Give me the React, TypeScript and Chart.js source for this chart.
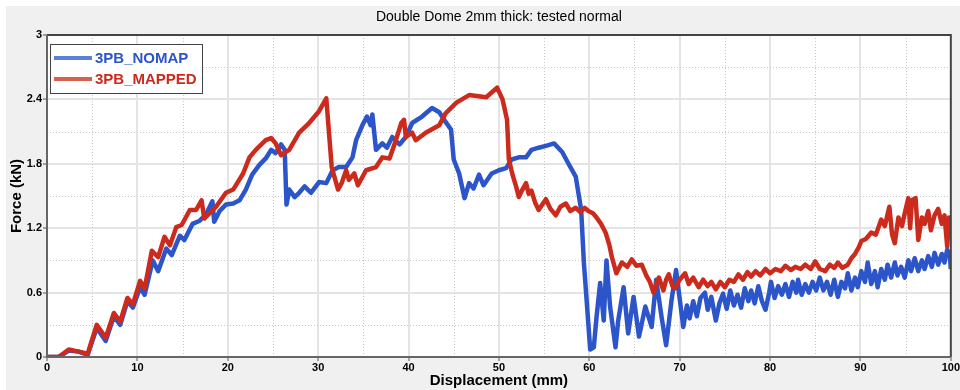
import React, { useEffect, useRef } from "react";
import { Chart, registerables } from "chart.js";

Chart.register(...registerables);

const chartTitle = "Double Dome 2mm thick: tested normal";
const xTitle = "Displacement (mm)";
const yTitle = "Force (kN)";
const seriesNames = ["3PB_NOMAP", "3PB_MAPPED"];
const seriesColors = ["#2b55c9", "#cc2a1c"];
const legendColors = ["#5a80d8", "#d8604f"];

const blueX = [0, 1.3, 2.4, 3.5, 4.5, 5.5, 6.5, 7.4, 8.1, 8.9, 9.5, 10.3, 10.8, 11.7, 12.3, 13.2, 13.8, 14.7, 15.2, 16.1, 16.9, 17.6, 18.3, 18.5, 19.1, 19.8, 20.6, 21.3, 22.0, 22.7, 23.5, 24.2, 24.8, 25.3, 25.9, 26.3, 26.5, 26.8, 27.4, 27.9, 28.5, 29.2, 30.1, 30.9, 31.6, 32.3, 33.1, 33.8, 34.2, 34.9, 35.4, 35.8, 36.0, 36.4, 37.1, 37.6, 38.2, 39.0, 39.7, 40.4, 41.5, 42.6, 43.4, 44.1, 44.7, 45.0, 45.6, 46.2, 46.7, 47.2, 47.8, 48.3, 49.2, 50.0, 50.8, 51.4, 52.2, 53.0, 53.6, 54.4, 55.3, 56.1, 57.0, 57.7, 58.5, 59.1, 59.4, 59.6, 60.1, 60.5, 60.8, 61.2, 61.6, 61.9, 62.3, 62.9, 63.2, 63.8, 64.3, 64.9, 65.5, 66.2, 66.9, 67.4, 68.0, 68.5, 69.1, 69.6, 70.4, 70.8, 71.1, 71.5, 71.9, 72.3, 72.8, 73.1, 73.5, 74.0, 74.4, 74.8, 75.2, 75.6, 76.0, 76.4, 76.8, 77.2, 77.6, 77.9, 78.3, 78.7, 79.1, 79.5, 79.9, 80.1, 80.5, 80.9, 81.3, 81.7, 82.1, 82.5, 82.9, 83.1, 83.5, 83.9, 84.3, 84.7, 85.1, 85.5, 85.9, 86.3, 86.7, 87.1, 87.5, 87.9, 88.3, 88.6, 89.0, 89.4, 89.7, 90.1, 90.5, 90.8, 91.2, 91.6, 91.9, 92.3, 92.7, 93.0, 93.4, 93.8, 94.1, 94.5, 94.9, 95.3, 95.6, 96.0, 96.4, 96.8, 97.1, 97.5, 97.9, 98.2, 98.6, 99.0, 99.3, 99.6, 99.9, 100];
const blueY = [0, 0, 0.06, 0.05, 0.02, 0.27, 0.15, 0.38, 0.30, 0.52, 0.46, 0.65, 0.58, 0.90, 0.80, 1.01, 0.95, 1.13, 1.09, 1.24, 1.27, 1.33, 1.45, 1.26, 1.36, 1.42, 1.43, 1.46, 1.56, 1.70, 1.79, 1.85, 1.93, 1.90, 1.98, 1.93, 1.42, 1.56, 1.49, 1.53, 1.59, 1.53, 1.63, 1.62, 1.74, 1.77, 1.77, 1.86, 2.02, 2.16, 2.24, 2.16, 2.26, 1.93, 1.99, 1.95, 2.05, 1.98, 2.05, 2.18, 2.24, 2.32, 2.28, 2.19, 2.12, 1.84, 1.71, 1.48, 1.62, 1.57, 1.70, 1.60, 1.71, 1.74, 1.76, 1.84, 1.86, 1.86, 1.93, 1.95, 1.97, 1.99, 1.91, 1.80, 1.68, 1.37, 0.88, 0.65, 0.07, 0.09, 0.37, 0.69, 0.34, 0.90, 0.47, 0.09, 0.34, 0.65, 0.22, 0.56, 0.19, 0.47, 0.28, 0.72, 0.37, 0.11, 0.53, 0.81, 0.28, 0.48, 0.36, 0.52, 0.38, 0.55, 0.60, 0.44, 0.56, 0.34, 0.50, 0.59, 0.45, 0.62, 0.48, 0.58, 0.46, 0.64, 0.52, 0.62, 0.50, 0.66, 0.52, 0.44, 0.60, 0.70, 0.55, 0.66, 0.58, 0.68, 0.56, 0.70, 0.60, 0.72, 0.58, 0.68, 0.60, 0.70, 0.62, 0.74, 0.62, 0.70, 0.58, 0.72, 0.56, 0.70, 0.64, 0.78, 0.62, 0.74, 0.65, 0.80, 0.70, 0.88, 0.68, 0.80, 0.65, 0.82, 0.72, 0.86, 0.74, 0.88, 0.76, 0.84, 0.74, 0.90, 0.80, 0.92, 0.80, 0.90, 0.82, 0.94, 0.84, 0.97, 0.86, 0.96, 0.88, 1.00, 0.95, 0.82];

const redX = [0, 1.3, 2.4, 3.5, 4.5, 5.5, 6.5, 7.4, 8.1, 8.9, 9.5, 10.3, 10.8, 11.6, 12.3, 13.0, 13.6, 14.3, 14.9, 15.8, 16.5, 17.1, 17.4, 18.7, 19.8, 20.6, 21.7, 22.4, 23.1, 24.2, 24.8, 25.3, 25.9, 26.8, 27.9, 29.0, 30.1, 30.9, 31.5, 32.2, 32.6, 33.1, 33.4, 34.0, 34.4, 35.3, 36.4, 37.1, 37.9, 38.6, 39.2, 39.5, 39.7, 40.4, 40.8, 41.9, 43.4, 44.1, 45.3, 46.7, 48.6, 49.8, 50.4, 50.9, 51.1, 51.5, 51.9, 52.2, 52.6, 53.0, 53.3, 53.6, 54.0, 54.4, 54.8, 55.2, 55.7, 56.3, 56.8, 57.4, 57.9, 58.5, 59.0, 59.5, 59.9, 60.4, 60.8, 61.3, 61.8, 62.2, 62.5, 63.0, 63.6, 64.2, 64.7, 65.2, 65.8, 66.3, 66.7, 67.1, 67.5, 67.7, 68.2, 68.5, 68.8, 69.2, 69.5, 70.0, 70.6, 71.0, 71.5, 72.1, 72.6, 73.1, 73.5, 74.0, 74.5, 75.0, 75.5, 76.0, 76.5, 77.0, 77.5, 77.9, 78.4, 78.9, 79.5, 80.0, 80.6, 81.2, 81.7, 82.3, 82.8, 83.4, 83.9, 84.5, 85.0, 85.5, 86.1, 86.6, 87.1, 87.5, 88.0, 88.6, 89.0, 89.4, 89.8, 90.1, 90.6, 91.2, 91.7, 92.3, 92.7, 93.2, 93.5, 93.8, 94.2, 94.6, 94.9, 95.3, 95.5, 95.7, 96.1, 96.4, 96.8, 97.1, 97.5, 97.8, 98.2, 98.6, 99.0, 99.3, 99.6, 99.8, 100];
const redY = [0, 0, 0.07, 0.05, 0.03, 0.30, 0.18, 0.41, 0.33, 0.55, 0.49, 0.71, 0.64, 0.99, 0.93, 1.12, 1.04, 1.21, 1.23, 1.37, 1.37, 1.46, 1.29, 1.40, 1.53, 1.56, 1.71, 1.86, 1.93, 2.02, 2.04, 1.99, 1.88, 1.93, 2.09, 2.18, 2.29, 2.41, 1.77, 1.56, 1.62, 1.74, 1.65, 1.71, 1.60, 1.74, 1.77, 1.86, 1.85, 2.02, 2.18, 2.21, 2.05, 2.09, 2.02, 2.09, 2.16, 2.27, 2.37, 2.44, 2.42, 2.51, 2.40, 2.21, 1.84, 1.70, 1.59, 1.49, 1.56, 1.62, 1.52, 1.55, 1.44, 1.37, 1.42, 1.47, 1.38, 1.32, 1.40, 1.43, 1.36, 1.39, 1.35, 1.39, 1.36, 1.34, 1.30, 1.24, 1.16, 1.05, 0.93, 0.78, 0.88, 0.84, 0.91, 0.85, 0.86, 0.76, 0.70, 0.60, 0.70, 0.74, 0.62, 0.72, 0.77, 0.66, 0.64, 0.72, 0.78, 0.68, 0.74, 0.65, 0.72, 0.66, 0.70, 0.63, 0.70, 0.65, 0.72, 0.70, 0.77, 0.72, 0.79, 0.75, 0.80, 0.76, 0.82, 0.78, 0.82, 0.80, 0.85, 0.81, 0.84, 0.82, 0.86, 0.82, 0.89, 0.82, 0.80, 0.86, 0.83, 0.88, 0.83, 0.86, 0.92, 0.96, 1.02, 1.08, 1.10, 1.16, 1.14, 1.28, 1.22, 1.40, 1.14, 1.06, 1.30, 1.22, 1.34, 1.48, 1.20, 1.46, 1.48, 1.09, 1.30, 1.24, 1.36, 1.18, 1.32, 1.38, 1.24, 1.32, 1.03, 1.30, 1.22];

const xMin = 0, xMax = 100, xStep = 5;
const yMin = 0, yMax = 3, yStep = 0.3;

function toPoints(xs: number[], ys: number[]) {
  return xs.map((x, i) => ({ x, y: ys[i] }));
}

const isMajorX = (v: number) => Math.round(v) % 10 === 0;
const isMajorY = (v: number) => Math.round(v * 10) % 6 === 0;

const decorPlugin = {
  id: "decor",
  beforeDraw(chart: any) {
    const { ctx, chartArea: a, width, height } = chart;
    ctx.save();
    ctx.fillStyle = "#ffffff";
    ctx.fillRect(0, 0, width, height);
    ctx.fillStyle = "#f0f0f0";
    ctx.fillRect(6, 6, width - 6, height - 6);
    ctx.fillStyle = "#ffffff";
    ctx.fillRect(a.left, a.top, a.right - a.left, a.bottom - a.top);
    ctx.fillStyle = "#000000";
    ctx.font = "14px 'Liberation Sans', Arial, sans-serif";
    ctx.textAlign = "center";
    ctx.textBaseline = "middle";
    ctx.fillText(chartTitle, (a.left + a.right) / 2, 17);
    ctx.restore();
  },
  beforeDatasetsDraw(chart: any) {
    const { ctx, chartArea: a, scales } = chart;
    ctx.save();
    ctx.strokeStyle = "#c8c8c8";
    ctx.lineWidth = 1;
    ctx.setLineDash([1, 2]);
    for (let v = xMin; v <= xMax; v += xStep) {
      if (isMajorX(v)) continue;
      const px = Math.round(scales.x.getPixelForValue(v)) + 0.5;
      ctx.beginPath();
      ctx.moveTo(px, a.top);
      ctx.lineTo(px, a.bottom);
      ctx.stroke();
    }
    for (let i = 0; i * yStep <= yMax + 1e-9; i++) {
      const v = yMin + i * yStep;
      if (isMajorY(v)) continue;
      const py = Math.round(scales.y.getPixelForValue(v)) + 0.5;
      ctx.beginPath();
      ctx.moveTo(a.left, py);
      ctx.lineTo(a.right, py);
      ctx.stroke();
    }
    ctx.restore();
  },
  afterDatasetsDraw(chart: any) {
    const { ctx, chartArea: a } = chart;
    ctx.save();
    ctx.strokeStyle = "#444444";
    ctx.lineWidth = 2;
    ctx.beginPath();
    ctx.moveTo(a.left, a.top);
    ctx.lineTo(a.right, a.top);
    ctx.lineTo(a.right, a.bottom);
    ctx.stroke();
    ctx.strokeStyle = "#666666";
    ctx.beginPath();
    ctx.moveTo(a.left, a.top);
    ctx.lineTo(a.left, a.bottom);
    ctx.lineTo(a.right, a.bottom);
    ctx.stroke();
    ctx.restore();
  },
  afterDraw(chart: any) {
    const { ctx, chartArea: a } = chart;
    ctx.save();
    const bx = a.left + 3, by = a.top + 9, bw = 152, bh = 49;
    ctx.fillStyle = "#ffffff";
    ctx.fillRect(bx, by, bw, bh);
    ctx.strokeStyle = "#444444";
    ctx.lineWidth = 1;
    ctx.strokeRect(bx + 0.5, by + 0.5, bw, bh);
    ctx.font = "bold 15px 'Liberation Sans', Arial, sans-serif";
    ctx.textBaseline = "middle";
    ctx.textAlign = "left";
    seriesNames.forEach((name, i) => {
      const ly = by + 14 + i * 21;
      ctx.strokeStyle = legendColors[i];
      ctx.lineWidth = 4;
      ctx.beginPath();
      ctx.moveTo(bx + 4, ly);
      ctx.lineTo(bx + 42, ly);
      ctx.stroke();
      ctx.fillStyle = seriesColors[i];
      ctx.fillText(name, bx + 45, ly + 1);
    });
    ctx.restore();
  },
};

export default function App() {
  const ref = useRef<HTMLCanvasElement>(null);
  useEffect(() => {
    document.body.style.margin = "0";
    const canvas = ref.current!;
    const tickFont = { family: "'Liberation Sans', Arial, sans-serif", size: 11, weight: "bold" as const };
    const titleFont = { family: "'Liberation Sans', Arial, sans-serif", size: 15, weight: "bold" as const };
    const chart = new Chart(canvas, {
      type: "line",
      data: {
        datasets: [
          {
            label: seriesNames[1],
            data: toPoints(redX, redY),
            borderColor: seriesColors[1],
            borderWidth: 4.5,
            pointRadius: 0,
            tension: 0,
            fill: false,
            borderJoinStyle: "round",
            order: 0,
          },
          {
            label: seriesNames[0],
            data: toPoints(blueX, blueY),
            borderColor: seriesColors[0],
            borderWidth: 4.5,
            pointRadius: 0,
            tension: 0,
            fill: false,
            borderJoinStyle: "round",
            order: 1,
          },
        ],
      },
      options: {
        animation: false,
        responsive: false,
        devicePixelRatio: 1,
        parsing: false as any,
        layout: { padding: { top: 35, right: 7, left: 0, bottom: 0 } },
        plugins: { legend: { display: false }, title: { display: false }, tooltip: { enabled: false } },
        scales: {
          x: {
            type: "linear",
            min: xMin,
            max: xMax,
            ticks: {
              stepSize: xStep,
              autoSkip: false,
              maxRotation: 0,
              padding: 0,
              color: "#000",
              font: tickFont,
              callback: (v: any) => (isMajorX(Number(v)) ? String(v) : ""),
            },
            grid: {
              color: (c: any) => (isMajorX(c.tick.value) ? "#e4e4e4" : "rgba(0,0,0,0)"),
              lineWidth: 2,
              tickLength: 4,
              tickColor: (c: any) => (isMajorX(c.tick.value) ? "#555" : "rgba(0,0,0,0)"),
              tickWidth: 1,
            },
            border: { display: false },
            title: { display: true, text: xTitle, color: "#000", font: titleFont, padding: { top: 0, bottom: 0 } },
            afterFit: (s: any) => { s.height = 33; },
          },
          y: {
            type: "linear",
            min: yMin,
            max: yMax,
            ticks: {
              stepSize: yStep,
              autoSkip: false,
              padding: 1,
              color: "#000",
              font: tickFont,
              callback: (v: any) => {
                const n = Number(v);
                return isMajorY(n) ? String(Math.round(n * 10) / 10) : "";
              },
            },
            grid: {
              color: (c: any) => (isMajorY(c.tick.value) ? "#e4e4e4" : "rgba(0,0,0,0)"),
              lineWidth: 2,
              tickLength: 4,
              tickColor: (c: any) => (isMajorY(c.tick.value) ? "#555" : "rgba(0,0,0,0)"),
              tickWidth: 1,
            },
            border: { display: false },
            title: { display: true, text: yTitle, color: "#000", font: titleFont, padding: { top: 8, bottom: 0 } },
            afterFit: (s: any) => { s.width = 47; },
          },
        },
      },
      plugins: [decorPlugin],
    });
    return () => chart.destroy();
  }, []);
  return (
    <div style={{ width: 960, height: 390 }}>
      <canvas ref={ref} width={960} height={390} style={{ display: "block", width: 960, height: 390 }} />
    </div>
  );
}
